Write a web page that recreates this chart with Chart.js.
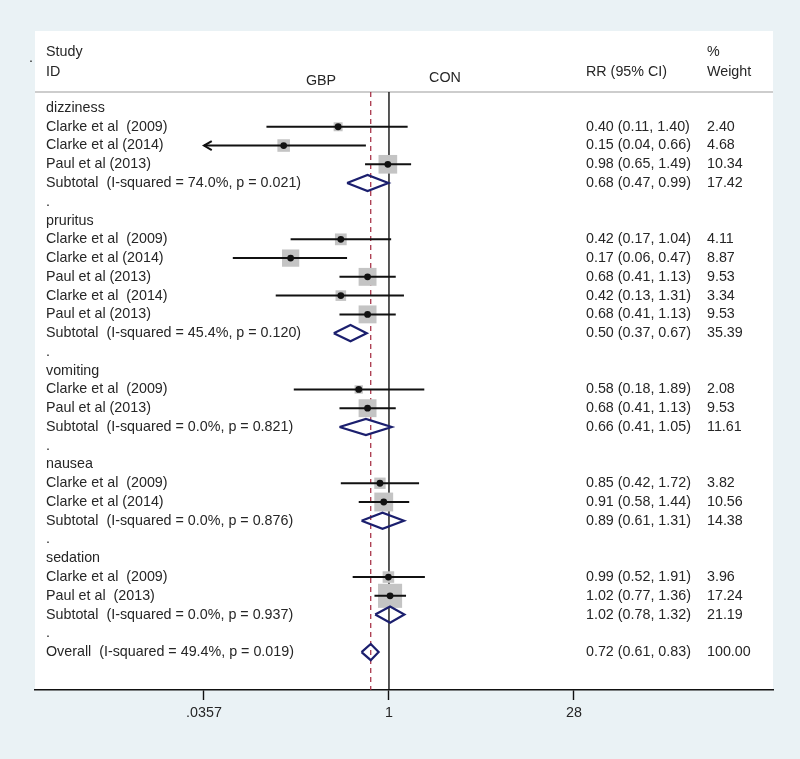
<!DOCTYPE html>
<html>
<head>
<meta charset="utf-8">
<script src="https://cdn.jsdelivr.net/npm/chart.js@4"></script>
<style>
  body { margin: 0; background: #eaf2f5; }
  #wrap { width: 800px; height: 759px; }
</style>
</head>
<body>
<div id="wrap"><canvas id="forest"></canvas></div>
<script>
// Row labels, top to bottom (row index = position in this list)
const rowLabels = [
  'dizziness', 'Clarke et al  (2009)', 'Clarke et al (2014)', 'Paul et al (2013)',
  'Subtotal  (I-squared = 74.0%, p = 0.021)', '.',
  'pruritus', 'Clarke et al  (2009)', 'Clarke et al (2014)', 'Paul et al (2013)',
  'Clarke et al  (2014)', 'Paul et al (2013)',
  'Subtotal  (I-squared = 45.4%, p = 0.120)', '.',
  'vomiting', 'Clarke et al  (2009)', 'Paul et al (2013)',
  'Subtotal  (I-squared = 0.0%, p = 0.821)', '.',
  'nausea', 'Clarke et al  (2009)', 'Clarke et al (2014)',
  'Subtotal  (I-squared = 0.0%, p = 0.876)', '.',
  'sedation', 'Clarke et al  (2009)', 'Paul et al  (2013)',
  'Subtotal  (I-squared = 0.0%, p = 0.937)', '.',
  'Overall  (I-squared = 49.4%, p = 0.019)'
];

// individual studies
const studyRows   = [1, 2, 3, 7, 8, 9, 10, 11, 15, 16, 20, 21, 25, 26];
const studyRR     = [0.40, 0.15, 0.98, 0.42, 0.17, 0.68, 0.42, 0.68, 0.58, 0.68, 0.85, 0.91, 0.99, 1.02];
const studyLo     = [0.11, 0.035, 0.65, 0.17, 0.06, 0.41, 0.13, 0.41, 0.18, 0.41, 0.42, 0.58, 0.52, 0.77];
const studyHi     = [1.40, 0.66, 1.49, 1.04, 0.47, 1.13, 1.31, 1.13, 1.89, 1.13, 1.72, 1.44, 1.91, 1.36];
const studyWeight = [2.40, 4.68, 10.34, 4.11, 8.87, 9.53, 3.34, 9.53, 2.08, 9.53, 3.82, 10.56, 3.96, 17.24];

// subtotals + overall
const poolRows   = [4, 12, 17, 22, 27, 29];
const poolRR     = [0.68, 0.50, 0.66, 0.89, 1.02, 0.72];
const poolLo     = [0.47, 0.37, 0.41, 0.61, 0.78, 0.61];
const poolHi     = [0.99, 0.67, 1.05, 1.31, 1.32, 0.83];
const poolWeight = [17.42, 35.39, 11.61, 14.38, 21.19, 100.00];

const xTicks = [0.0357, 1, 28];
const xTickLabels = ['.0357', '1', '28'];

const Y_MIN = -0.853, Y_MAX = 31.02;
const NAVY = '#1b1f6e';
const FAMILY = '"Liberation Sans", Arial, sans-serif';
const FONT = '14.3px ' + FAMILY;
const TEXT = '#262626';

const fmt = v => (Math.round(v * 100 + 1e-9) / 100).toFixed(2);

const datasets = [];

// black dots (on top)
datasets.push({
  type: 'scatter',
  data: studyRows.map((r, i) => ({ x: studyRR[i], y: r })),
  pointRadius: 3.4, pointBackgroundColor: '#111', pointBorderWidth: 0,
  order: 0
});

// diamonds
poolRows.forEach((r, i) => {
  datasets.push({
    type: 'line',
    data: [
      { x: poolLo[i], y: r }, { x: poolRR[i], y: r - 0.43 },
      { x: poolHi[i], y: r }, { x: poolRR[i], y: r + 0.43 },
      { x: poolLo[i], y: r }
    ],
    borderColor: NAVY, borderWidth: 2.2, pointRadius: 0, tension: 0, fill: false,
    order: 1
  });
});

// confidence interval lines, with an arrow if clipped at the lowest tick
const clipLo = xTicks[0];
studyRows.forEach((r, i) => {
  const lo = Math.max(studyLo[i], clipLo);
  datasets.push({
    type: 'line',
    data: [{ x: lo, y: r }, { x: studyHi[i], y: r }],
    borderColor: '#111', borderWidth: 2, pointRadius: 0,
    order: 2
  });
  if (studyLo[i] < clipLo) {
    const tip = clipLo * Math.exp(0.14);
    datasets.push({
      type: 'line',
      data: [{ x: tip, y: r - 0.24 }, { x: clipLo, y: r }, { x: tip, y: r + 0.24 }],
      borderColor: '#111', borderWidth: 2, pointRadius: 0,
      order: 2
    });
  }
});

// grey weight boxes (area ~ weight)
datasets.push({
  type: 'scatter',
  data: studyRows.map((r, i) => ({ x: studyRR[i], y: r })),
  pointStyle: 'rect',
  pointRadius: studyWeight.map(w => 5.8 * Math.sqrt(w) / Math.SQRT2),
  pointBackgroundColor: '#c4c4c4', pointBorderWidth: 0,
  order: 3
});

// no-effect line and overall effect line
datasets.push({
  type: 'line',
  data: [{ x: 1, y: Y_MIN }, { x: 1, y: Y_MAX }],
  borderColor: '#111', borderWidth: 1.4, pointRadius: 0, order: 4
});
datasets.push({
  type: 'line',
  data: [{ x: poolRR[5], y: Y_MIN }, { x: poolRR[5], y: Y_MAX }],
  borderColor: '#a3263c', borderWidth: 1.2, borderDash: [5, 4], pointRadius: 0, order: 4
});

const panelPlugin = {
  id: 'panel',
  beforeDraw(chart) {
    const { ctx, chartArea } = chart;
    ctx.save();
    ctx.fillStyle = '#eaf2f5';
    ctx.fillRect(0, 0, chart.width, chart.height);
    ctx.fillStyle = '#ffffff';
    ctx.fillRect(chartArea.left, 31, chartArea.right - chartArea.left, chartArea.bottom - 31);
    ctx.strokeStyle = '#cdcdcd';
    ctx.lineWidth = 2;
    ctx.beginPath();
    ctx.moveTo(chartArea.left, chartArea.top);
    ctx.lineTo(chartArea.right, chartArea.top);
    ctx.stroke();
    ctx.restore();
  },
  afterDraw(chart) {
    const { ctx } = chart;
    const y = chart.scales.y;
    ctx.save();
    ctx.font = FONT;
    ctx.fillStyle = TEXT;
    ctx.textBaseline = 'middle';
    ctx.textAlign = 'left';

    // header
    ctx.fillText('.', 29, 58);
    ctx.fillText('Study', 46, 52);
    ctx.fillText('ID', 46, 72);
    ctx.fillText('%', 707, 52);
    ctx.fillText('Weight', 707, 72);
    ctx.fillText('RR (95% CI)', 586, 72);
    ctx.textAlign = 'center';
    ctx.fillText('GBP', 321, 81);
    ctx.fillText('CON', 445, 78);
    ctx.textAlign = 'left';

    rowLabels.forEach((lab, r) => ctx.fillText(lab, 46, y.getPixelForValue(r)));

    studyRows.forEach((r, i) => {
      const py = y.getPixelForValue(r);
      ctx.fillText(fmt(studyRR[i]) + ' (' + fmt(studyLo[i]) + ', ' + fmt(studyHi[i]) + ')', 586, py);
      ctx.fillText(studyWeight[i].toFixed(2), 707, py);
    });
    poolRows.forEach((r, i) => {
      const py = y.getPixelForValue(r);
      ctx.fillText(fmt(poolRR[i]) + ' (' + fmt(poolLo[i]) + ', ' + fmt(poolHi[i]) + ')', 586, py);
      ctx.fillText(poolWeight[i].toFixed(2), 707, py);
    });
    ctx.restore();
  }
};

new Chart(document.getElementById('forest'), {
  data: { datasets: datasets },
  plugins: [panelPlugin],
  options: {
    responsive: true,
    maintainAspectRatio: false,
    animation: false,
    layout: { padding: { left: 35, right: 27, top: 92, bottom: 29 } },
    plugins: { legend: { display: false }, tooltip: { enabled: false } },
    scales: {
      x: {
        type: 'logarithmic',
        min: 0.0017,
        max: 1011,
        afterBuildTicks: scale => { scale.ticks = xTicks.map(v => ({ value: v })); },
        afterFit: scale => { scale.height = 40; },
        ticks: {
          autoSkip: false,
          maxRotation: 0,
          padding: 4,
          color: TEXT,
          font: { family: FAMILY, size: 14.3 },
          callback: (v, i) => xTickLabels[i]
        },
        grid: { drawOnChartArea: false, drawTicks: true, tickLength: 10, tickColor: '#111', tickWidth: 1.4 },
        border: { display: true, color: '#111', width: 1.4 }
      },
      y: { type: 'linear', display: false, reverse: true, min: Y_MIN, max: Y_MAX }
    }
  }
});
</script>
</body>
</html>
